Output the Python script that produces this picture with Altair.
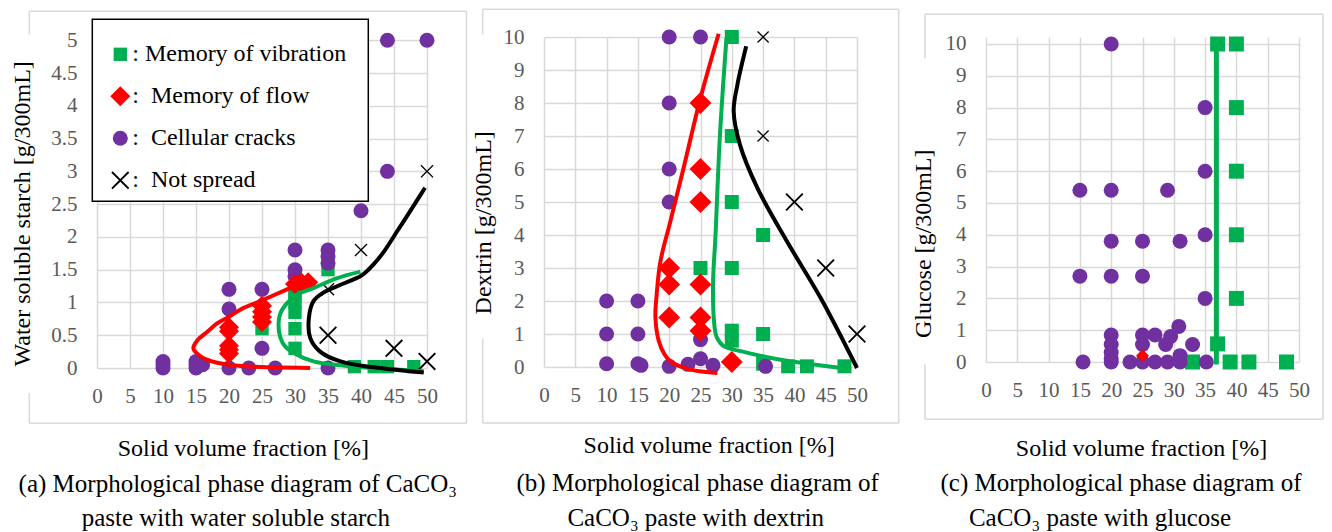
import altair as alt
import pandas as pd

FONT = "'Liberation Serif', 'DejaVu Serif', serif"
GRID = "#d9d9d9"
FRAME = "#d9d9d9"
LABEL = "#595959"
GREEN, RED, PURPLE, BLACK = "#00B050", "#FF0000", "#7030A0", "#000000"
X_SHAPE = ("M-1,-0.85L-0.85,-1L0,-0.15L0.85,-1L1,-0.85L0.15,0L1,0.85L0.85,1"
           "L0,0.15L-0.85,1L-1,0.85L-0.15,0Z")
KINDS = ["Memory of vibration", "Memory of flow", "Cellular cracks", "Not spread"]
COLORS = [GREEN, RED, PURPLE, BLACK]
SHAPES = ["square", "diamond", "circle", X_SHAPE]

# ---------------- panel (a): water soluble starch ----------------
a_vib_x = [25, 30, 30, 30, 30, 30, 30, 35, 39, 42, 44, 48]
a_vib_y = [0.6, 0.3, 0.6, 0.85, 1.0, 1.1, 1.2, 1.5, 0.02, 0.02, 0.02, 0.02]
a_flow_x = [20, 20, 20, 20, 20, 25, 25, 25, 25, 30, 31, 32]
a_flow_y = [0.22, 0.28, 0.34, 0.56, 0.62, 0.7, 0.78, 0.86, 0.95, 1.28, 1.3, 1.31]
a_crack_x = [10, 10, 10, 15, 15, 15, 16, 20, 23, 27, 35, 20, 20, 25, 25, 30, 30, 30,
             35, 35, 35, 40, 44, 44, 50]
a_crack_y = [0, 0.05, 0.1, 0, 0.05, 0.1, 0.05, 0, 0, 0, 0, 0.9, 1.2, 1.2, 0.3, 1.4, 1.5,
             1.8, 1.6, 1.7, 1.8, 2.4, 3, 5, 5]
a_ns_x = [35, 45, 50]
a_ns_y = [0.5, 0.3, 0.1]
a_ns_small_x = [50, 40, 35]
a_ns_small_y = [3, 1.8, 1.2]
a_red_x = [32.3, 27, 22, 18.2, 15.8, 14.6, 15.2, 16.8, 18.2, 20, 21.7, 25.2, 28.8, 31.8]
a_red_y = [0.0, 0.01, 0.03, 0.08, 0.17, 0.3, 0.42, 0.56, 0.68, 0.78, 0.89, 1.04, 1.2, 1.33]
a_green_x = [39.9, 36.4, 32.8, 30.3, 28.8, 27.8, 27.5, 27.8, 28.5, 29.8, 32.8, 36.9, 41.9, 49.5]
a_green_y = [1.47, 1.37, 1.22, 1.12, 0.99, 0.84, 0.66, 0.46, 0.33, 0.23, 0.1, 0.04, 0.0, -0.05]
a_black_x = [49.7, 47.5, 45.5, 43.5, 41.9, 40.8, 39.9, 36.9, 34.3, 32.8, 32.1, 32.3, 33.8,
             36.9, 41.9, 49.5]
a_black_y = [2.75, 2.4, 2.09, 1.78, 1.58, 1.47, 1.4, 1.27, 1.15, 1.02, 0.76, 0.46, 0.25,
             0.1, 0.01, -0.07]

# ---------------- panel (b): dextrin ----------------
b_vib_x = [30, 30, 30, 35, 25, 30, 30, 30, 35, 35, 39, 42, 48]
b_vib_y = [10, 7, 5, 4, 3, 3, 1.1, 0.8, 1, 0.1, 0.02, 0.02, 0.02]
b_flow_x = [25, 25, 25, 20, 20, 25, 20, 25, 25, 30]
b_flow_y = [8, 6, 5, 3, 2.5, 2.5, 1.5, 1.5, 1.1, 0.15]
b_crack_x = [20, 25, 20, 20, 20, 10, 15, 10, 15, 10, 15, 15.5, 20, 23, 25, 27, 35.4, 25]
b_crack_y = [10, 10, 8, 6, 5, 2, 2, 1, 1, 0.1, 0.1, 0.05, 0.02, 0.08, 0.25, 0.05, 0.02, 0.83]
b_ns_x = [40, 45, 50]
b_ns_y = [5, 3, 1]
b_ns_small_x = [35, 35]
b_ns_small_y = [10, 7]
b_red_x = [27.9, 25, 22.3, 20.2, 18.6, 18.0, 17.8, 18.35, 19.2, 20.2, 23.4, 27.7]
b_red_y = [10.1, 8.15, 6.03, 4.42, 3.2, 2.2, 1.5, 0.78, 0.4, 0.17, -0.08, -0.18]
b_green_x = [29.15, 28.1, 27.4, 27.0, 27.2, 27.6, 28.7, 31.4, 37.8, 43, 48.4]
b_green_y = [9.97, 7.0, 4.0, 2.5, 1.3, 0.9, 0.63, 0.48, 0.22, 0.08, -0.05]
b_black_x = [32.3, 30.9, 30.3, 31.3, 34.1, 38.8, 44.2, 50]
b_black_y = [9.72, 8.56, 7.75, 6.74, 5.42, 3.81, 2.09, -0.03]

# ---------------- panel (c): glucose ----------------
c_vib_x = [37, 40, 40, 40, 40, 40, 37, 33, 39, 42, 48]
c_vib_y = [10, 10, 8, 6, 4, 2, 0.57, 0, 0, 0, 0]
c_flow_x = [25]
c_flow_y = [0.2]
c_crack_x = [20, 35, 35, 35, 35, 15, 20, 29, 20, 25, 31, 15, 20, 25, 20, 20, 20, 20, 25, 25,
             27, 28.7, 29.5, 30.8, 33, 15.5, 20, 23, 25, 27, 29, 31, 31, 35.2]
c_crack_y = [10, 8, 6, 4, 2, 5.4, 5.4, 5.4, 3.8, 3.8, 3.8, 2.7, 2.7, 2.7, 0.85, 0.55, 0.3,
             0.1, 0.85, 0.55, 0.85, 0.55, 0.8, 1.12, 0.55, 0, 0, 0, 0, 0, 0, 0, 0.2, 0]
c_ns_x = []
c_ns_y = []
c_green_x = [36.8, 36.8]
c_green_y = [10, -0.08]


def points_df(vib, flow, crack, ns):
    rows = []
    for kind, (xs, ys) in [(KINDS[0], vib), (KINDS[2], crack), (KINDS[1], flow), (KINDS[3], ns)]:
        for x, y in zip(xs, ys):
            rows.append({"x": x, "y": y, "kind": kind, "o": len(rows)})
    return pd.DataFrame(rows)


def curve_df(xs, ys):
    return pd.DataFrame({"x": xs, "y": ys, "i": list(range(len(xs)))})


ONE = alt.Data(values=[{"k": 1}])


def seg(x1, y1, x2, y2, color=FRAME, w=1.5, op=1.0):
    return alt.Chart(ONE).mark_rule(color=color, strokeWidth=w, opacity=op).encode(
        x=alt.value(x1), y=alt.value(y1), x2=alt.value(x2), y2=alt.value(y2))


def box(x1, y1, x2, y2):
    return alt.Chart(ONE).mark_rect(fill="white", stroke="black", strokeWidth=1.5).encode(
        x=alt.value(x1), y=alt.value(y1), x2=alt.value(x2), y2=alt.value(y2))


def txt(x, y, s, size=25):
    return alt.Chart(ONE).mark_text(font=FONT, fontSize=size, color="black",
                                     align="center", baseline="middle").encode(
        x=alt.value(x), y=alt.value(y), text=alt.value(s))


def panel(cfg, pts, small_ns, small_size, curves, legend):
    xscale = alt.Scale(domain=[0, 50], nice=False, zero=False)
    yscale = alt.Scale(domain=[0, cfg["ymax"]], nice=False, zero=False)
    xaxis = alt.Axis(values=list(range(0, 51, 5)), title="Solid volume fraction [%]",
                     titleX=cfg["xt"][0], titleY=cfg["xt"][1], titleAlign="center",
                     titleBaseline="middle", labelPadding=cfg["xlp"], labelFlush=False,
                     labelOverlap=False, labelFont=FONT, titleFont=FONT)
    yaxis = alt.Axis(values=cfg["yvals"], labelExpr="'' + datum.value", title=cfg["ytitle"],
                     titleX=cfg["yt"][0], titleY=cfg["yt"][1], titleAngle=270,
                     titleAlign="center", titleBaseline="middle", labelPadding=20,
                     labelOverlap=False, labelFlush=False, labelFont=FONT, titleFont=FONT)
    X = alt.X("x:Q", scale=xscale, axis=xaxis)
    Y = alt.Y("y:Q", scale=yscale, axis=yaxis)

    L, R, T, B = cfg["frame"]
    g1, g2 = cfg["gap"]
    al, ar, at = cfg["anchor"]
    layers = [
        seg(al, at, ar, at, op=0.0),
        seg(L, T, R, T), seg(R, T, R, B), seg(L, B, R, B),
        seg(L, T, L, g1), seg(L, g2, L, B),
    ]
    if cfg.get("legbox"):
        layers.append(box(*cfg["legbox"]))
    leg = legend
    layers.append(
        alt.Chart(pts).mark_point(filled=True, opacity=1).encode(
            x=X, y=Y,
            color=alt.Color("kind:N", scale=alt.Scale(domain=KINDS, range=COLORS), legend=leg),
            shape=alt.Shape("kind:N", scale=alt.Scale(domain=KINDS, range=SHAPES), legend=leg),
            size=alt.Size("kind:N", scale=alt.Scale(type="ordinal", domain=KINDS,
                                                    range=cfg["sizes"]), legend=leg),
            order=alt.Order("o:Q"),
        )
    )
    if small_ns is not None:
        layers.append(
            alt.Chart(pd.DataFrame({"x": small_ns[0], "y": small_ns[1]})).mark_point(
                filled=True, opacity=1, shape=X_SHAPE, color=BLACK, size=small_size
            ).encode(x=X, y=Y)
        )
    for (xs, ys), color, w in curves:
        layers.append(
            alt.Chart(curve_df(xs, ys)).mark_line(
                color=color, strokeWidth=w, interpolate="catmull-rom", strokeCap="butt"
            ).encode(x=X, y=Y, order=alt.Order("i:Q"))
        )
    for (cx, cy, s) in cfg["captions"]:
        layers.append(txt(cx, cy, s))
    return alt.layer(*layers).properties(width=cfg["w"], height=cfg["h"])


legend_a = alt.Legend(
    orient="none", legendX=-4.7, legendY=-17.7, title=" ", titleFontSize=10, titlePadding=4,
    padding=9, labelFont=FONT, labelFontSize=24,
    labelColor="black", rowPadding=18, symbolOffset=7, labelOffset=0, labelLimit=0,
    symbolStrokeWidth=0,
    labelExpr=("datum.label == 'Memory of vibration' ? ': Memory of vibration' "
               ": ':\u2002' + datum.label"),
)

cfg_a = dict(
    w=330, h=331, ymax=5.05, yvals=[i * 0.5 for i in range(11)],
    ytitle="Water soluble starch [g/300mL]", yt=(-74.7, 176.3), xt=(145.8, 80), xlp=17.5,
    frame=(-67.7, 369.5, -25.7, 386.3), gap=(-2.7, 356.3), anchor=(-88.7, 370.2, -27.7),
    legbox=(-4.7, -17.7, 271.3, 164.3),
    sizes=[178, 400, 225, 324],
    captions=[(140.8, 447.3, "(a) Morphological phase diagram of CaCO\u2083"),
              (138.8, 481.3, "paste with water soluble starch")],
)
cfg_b = dict(
    w=313, h=330, ymax=10, yvals=list(range(11)),
    ytitle="Dextrin [g/300mL]", yt=(-61, 185.3), xt=(164.7, 78.3), xlp=17,
    frame=(-61.3, 354.7, -27.7, 386), gap=(-2.7, 301.3), anchor=(-75.3, 359.7, -27.7),
    sizes=[196, 480, 225, 324],
    captions=[(153.7, 446, "(b) Morphological phase diagram of"),
              (151.7, 481.3, "CaCO\u2083 paste with dextrin")],
)
cfg_c = dict(
    w=313, h=325, ymax=10.22, yvals=list(range(11)),
    ytitle="Glucose [g/300mL]", yt=(-63, 206.3), xt=(155, 86), xlp=17.5,
    frame=(-61, 337, -22.7, 382.3), gap=(21.3, 327.3), anchor=(-82, 338, -27.7),
    sizes=[225, 170, 225, 324],
    captions=[(135, 446, "(c) Morphological phase diagram of"),
              (114, 481.3, "CaCO\u2083 paste with glucose")],
)

pa = panel(cfg_a,
           points_df((a_vib_x, a_vib_y), (a_flow_x, a_flow_y), (a_crack_x, a_crack_y),
                     (a_ns_x, a_ns_y)),
           (a_ns_small_x, a_ns_small_y), 169,
           [((a_red_x, a_red_y), RED, 4), ((a_green_x, a_green_y), GREEN, 4),
            ((a_black_x, a_black_y), BLACK, 4)],
           legend_a)
pb = panel(cfg_b,
           points_df((b_vib_x, b_vib_y), (b_flow_x, b_flow_y), (b_crack_x, b_crack_y),
                     (b_ns_x, b_ns_y)),
           (b_ns_small_x, b_ns_small_y), 144,
           [((b_red_x, b_red_y), RED, 4), ((b_green_x, b_green_y), GREEN, 4),
            ((b_black_x, b_black_y), BLACK, 4)],
           None)
pc = panel(cfg_c,
           points_df((c_vib_x, c_vib_y), (c_flow_x, c_flow_y), (c_crack_x, c_crack_y),
                     (c_ns_x, c_ns_y)),
           None, 0,
           [((c_green_x, c_green_y), GREEN, 5)],
           None)

chart = (
    alt.hconcat(pa, pb, pc, spacing=0)
    .resolve_scale(color="independent", shape="independent", size="independent")
    .resolve_legend(color="independent", shape="independent", size="independent")
    .properties(padding=0)
    .configure(font=FONT)
    .configure_view(stroke=None)
    .configure_axis(
        grid=True, gridColor=GRID, gridWidth=1.5, domain=False, ticks=False,
        labelFont=FONT, labelFontSize=21, labelColor=LABEL,
        titleFont=FONT, titleFontSize=24, titleFontWeight="normal", titleColor="black",
    )
)

chart.save("out.html", embed_options={"renderer": "svg", "actions": False})
